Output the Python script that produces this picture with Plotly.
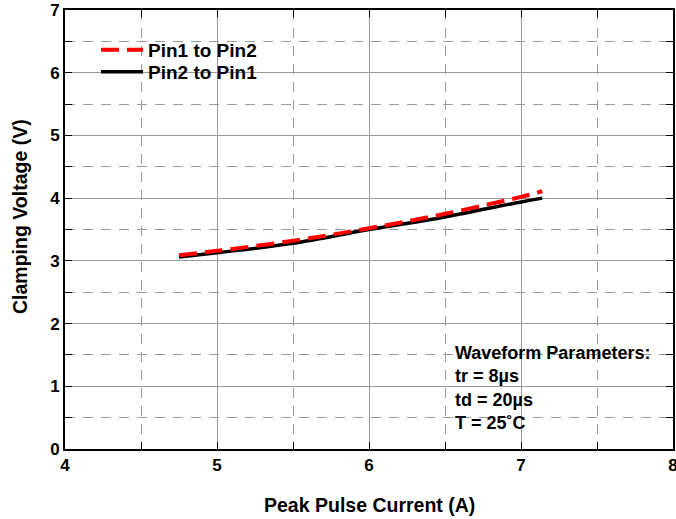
import plotly.graph_objects as go

current = [4.75, 5.0, 5.5, 6.0, 6.5, 7.0, 7.14]
pin1_to_pin2 = [3.09, 3.16, 3.32, 3.52, 3.75, 4.02, 4.11]
pin2_to_pin1 = [3.06, 3.13, 3.28, 3.50, 3.70, 3.94, 4.00]

x_ticks = [4, 5, 6, 7, 8]
y_ticks = [0, 1, 2, 3, 4, 5, 6, 7]
x_title = "Peak Pulse Current (A)"
y_title = "Clamping Voltage (V)"
legend_names = ["Pin1 to Pin2", "Pin2 to Pin1"]
note_lines = ["Waveform Parameters:", "tr = 8µs", "td = 20µs", "T = 25˚C"]

FONT = "Liberation Sans, Arial, sans-serif"
W, H = 676, 519
ML, MR, MT, MB = 65, 3, 10, 70
PW, PH = W - ML - MR, H - MT - MB


def px_x(p):
    return (p - ML) / PW


def px_y(p):
    return (H - MB - p) / PH


fig = go.Figure()
fig.add_trace(go.Scatter(x=current, y=pin2_to_pin1, mode="lines", name="<b>%s</b>" % legend_names[1],
                         legend="legend2",
                         line=dict(color="#000000", width=3.5, shape="spline")))
fig.add_trace(go.Scatter(x=current, y=pin1_to_pin2, mode="lines", name="<b>%s</b>" % legend_names[0],
                         legend="legend",
                         line=dict(color="#ff0000", width=4, dash="18px,8px", shape="spline")))

grid_color = "#9a9a9a"
axis_common = dict(
    showline=True, linecolor="black", linewidth=2, mirror="ticks",
    ticks="inside", ticklen=7, tickcolor="black", tickwidth=1,
    showgrid=True, gridcolor=grid_color, gridwidth=1,
    zeroline=False, automargin=False, ticklabeloverflow="allow",
    tickfont=dict(family=FONT, size=17, color="black"),
)
minor_common = dict(dtick=0.5, ticks="inside", ticklen=7, tickcolor="black",
                    showgrid=True, gridcolor=grid_color, griddash="10px,8px", gridwidth=1)

fig.update_xaxes(range=[4, 8], tickmode="array", tickvals=x_ticks,
                 ticktext=["<b>%d</b>" % v for v in x_ticks], minor=minor_common, **axis_common)
fig.update_yaxes(range=[0, 7], tickmode="array", tickvals=y_ticks,
                 ticktext=["<b>%d</b>" % v for v in y_ticks], minor=minor_common, **axis_common)

leg_common = dict(xanchor="left", yanchor="middle", bgcolor="rgba(0,0,0,0)", borderwidth=0,
                  itemwidth=42, font=dict(family=FONT, size=19, color="black"))

fig.update_layout(
    width=W, height=H,
    margin=dict(l=ML, r=MR, t=MT, b=MB),
    plot_bgcolor="white", paper_bgcolor="white",
    font=dict(family=FONT, color="black"),
    showlegend=True,
    legend=dict(x=px_x(96), y=px_y(50), **leg_common),
    legend2=dict(x=px_x(96), y=px_y(72), **leg_common),
    shapes=[
        dict(type="rect", xref="paper", yref="paper", layer="between",
             x0=px_x(95), x1=px_x(263), y0=px_y(86), y1=px_y(36),
             fillcolor="white", line=dict(width=0)),
        dict(type="rect", xref="paper", yref="paper", layer="between",
             x0=px_x(444), x1=px_x(665), y0=px_y(441), y1=px_y(335),
             fillcolor="white", line=dict(width=0)),
    ],
    annotations=[
        dict(x=px_x(453), y=px_y(388), xref="paper", yref="paper", xanchor="left", yanchor="middle",
             text="<br>".join("<b>%s</b>" % s for s in note_lines),
             align="left", showarrow=False,
             font=dict(family=FONT, size=18, color="black")),
        dict(x=0.5, y=px_y(505), xref="paper", yref="paper", xanchor="center", yanchor="middle",
             text="<b>%s</b>" % x_title, showarrow=False,
             font=dict(family=FONT, size=19.5, color="black")),
        dict(x=px_x(20), y=px_y(217), xref="paper", yref="paper", xanchor="center", yanchor="middle",
             text="<b>%s</b>" % y_title, showarrow=False, textangle=-90,
             font=dict(family=FONT, size=19.5, color="black")),
    ],
)

fig.write_html("out.html", config={"displayModeBar": False},
               post_script="document.body.style.margin='0';document.body.style.overflow='hidden';")
